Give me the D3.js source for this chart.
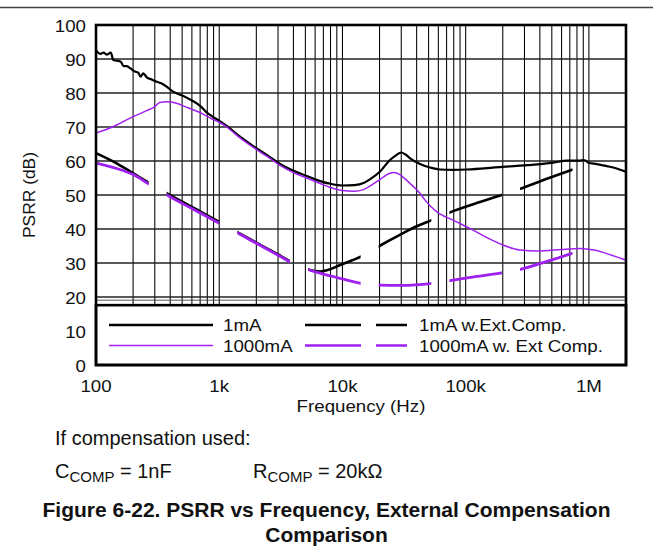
<!DOCTYPE html>
<html>
<head>
<meta charset="utf-8">
<script src="https://cdn.jsdelivr.net/npm/d3@7"></script>
<style>
  body { margin: 0; background: #fff; }
  svg { display: block; }
</style>
</head>
<body>
<svg id="chart" width="653" height="551"></svg>
<script>
// ---- Axis ticks ----
const freqTicks = [100, 1e3, 1e4, 1e5, 1e6];
const freqTickLabels = ["100", "1k", "10k", "100k", "1M"];
const psrrTicks = [0, 10, 20, 30, 40, 50, 60, 70, 80, 90, 100];

// ---- 1mA, no compensation ----
const freq1mA = [100, 108, 115, 122, 132, 138, 147, 159, 167, 177, 189, 207, 220, 230, 242, 258, 283, 311,
  341, 374, 411, 451, 511, 579, 700, 790, 890, 1000, 1150, 1475, 1890, 2430, 3115, 4000, 5130, 6000, 7000,
  8000, 10000, 12500, 15000, 16700, 20200, 24300, 27000, 30000, 32500, 35400, 42600, 51400, 62000, 79000,
  102000, 150000, 200000, 300000, 402000, 515000, 662000, 750000, 848000, 902000, 950000, 991000, 1160000,
  1400000, 1680000, 1970000, 2000000];
const psrr1mA = [92.6, 91.5, 91.9, 91.3, 91.9, 89.7, 89.5, 89.2, 87.9, 87.9, 87.3, 86.3, 86.0, 84.8, 85.8, 84.6, 84.0, 83.3,
  82.8, 81.9, 80.7, 79.9, 79.1, 78.1, 76.2, 74.3, 73.0, 71.8, 70.3, 67.2, 64.4, 61.8, 59.1, 57.1, 55.6, 54.6, 53.8,
  53.3, 52.8, 52.9, 53.6, 54.6, 56.9, 60.3, 61.6, 62.5, 61.9, 60.8, 59.1, 58.1, 57.5, 57.4,
  57.5, 57.9, 58.3, 58.7, 59.1, 59.5, 60.1, 60.1, 60.1, 60.3, 60.0, 59.5, 59.1,
  58.5, 57.8, 56.9, 56.8];

// ---- 1000mA, no compensation ----
const freq1000mA = [100, 118, 147, 177, 213, 258, 300, 330, 372, 450, 528, 620, 740, 860, 1000, 1150, 1475, 1890,
  2430, 3115, 4000, 5130, 6580, 8000, 10000, 12500, 14600, 16700, 20200, 24300, 25900, 27500, 29400, 32000,
  35400, 42600, 46800, 58000, 79000, 108000, 148000, 200000, 276000, 375000, 520000, 700000, 850000, 1100000,
  1500000, 1970000, 2000000];
const psrr1000mA = [68.2, 69.1, 70.6, 72.1, 73.5, 74.8, 76.0, 77.2, 77.4, 77.0, 76.0, 75.0, 73.8, 72.5, 71.4, 70.0, 66.8, 64.0,
  61.4, 58.7, 56.6, 55.0, 53.4, 52.2, 51.3, 51.1, 51.5, 52.6, 54.6, 56.4, 56.6, 56.5, 55.9, 54.8,
  53.4, 50.5, 48.5, 45.1, 42.6, 40.2, 37.5, 35.3, 33.8, 33.5, 33.8, 34.1, 34.3, 33.8,
  32.4, 30.9, 30.8];

// ---- 1mA with external compensation ----
const freq1mAExt = [100, 147, 200, 269, 377, 600, 1000, 1413, 2000, 3000, 3800, 4500, 5260, 6580, 8000, 9560,
  12000, 14200, 19900, 30000, 40000, 53000, 74700, 120000, 196000, 276000, 450000, 740000];
const psrr1mAExt = [62.3, 59.3, 56.4, 53.6, 50.5, 46.5, 42.1, 39.0, 36.0, 32.5, 30.4, 29.0, 28.1, 27.5, 28.2, 29.4,
  30.8, 31.9, 35.0, 38.5, 40.8, 42.6, 44.9, 47.5, 50.0, 51.8, 54.7, 57.5];

// ---- 1000mA with external compensation ----
const freq1000mAExt = [100, 147, 200, 269, 377, 600, 1000, 1413, 2000, 3000, 3800, 4500, 5260, 6580, 8000, 9560,
  12000, 14200, 19900, 30000, 53000, 74700, 120000, 196000, 276000, 450000, 740000];
const psrr1000mAExt = [59.4, 57.8, 56.0, 53.2, 50.0, 46.0, 41.7, 38.8, 35.8, 32.3, 30.2, 29.0, 28.1, 27.0, 26.2, 25.5,
  24.6, 24.0, 23.5, 23.4, 24.0, 24.8, 26.0, 27.1, 28.1, 30.4, 32.9];

const seriesNames = ["1mA", "1000mA", "1mA w.Ext.Comp.", "1000mA w. Ext Comp."];

// ---- Layout ----
const W = 653, H = 551;
const plot = { left: 96, right: 626, top: 25, bottom: 365 };
const PURPLE = "#a020f0";
const CHART_FONT = "'Liberation Sans', Arial, Helvetica, sans-serif";
const TEXT_STRETCH = 1.1;       // chart labels are slightly wide
const LEGEND_TOP_DB = 17.6;     // legend panel covers the bottom of the plot
const DASH_DECADES = 0.427;     // long-dash pattern measured along log frequency
const DASH_PERIOD_DECADES = 0.5735;

const svg = d3.select("#chart");
svg.append("rect").attr("width", W).attr("height", H).attr("fill", "#fff");

const x = d3.scaleLog().domain([100, 2e6]).range([plot.left, plot.right]);
const y = d3.scaleLinear().domain([0, 100]).range([plot.bottom, plot.top]);
const legendTop = y(LEGEND_TOP_DB);

// rule across the top of the page
svg.append("line").attr("x1", 0).attr("x2", W).attr("y1", 7.5).attr("y2", 7.5)
  .attr("stroke", "#444").attr("stroke-width", 1.3);

// ---- Grid ----
const grid = svg.append("g");
const minorFreqs = [];
for (let dec = 100; dec <= 1e6; dec *= 10) {
  for (let m = 1; m <= 9; m++) {
    const f = dec * m;
    if (f > 100 && f < 2e6) minorFreqs.push(f);
  }
}
grid.selectAll("line.v").data(minorFreqs).join("line")
  .attr("x1", d => x(d)).attr("x2", d => x(d))
  .attr("y1", plot.top).attr("y2", legendTop)
  .attr("stroke", "#000").attr("stroke-width", 1.05);
grid.selectAll("line.h").data(psrrTicks.filter(v => v >= 20 && v < 100)).join("line")
  .attr("x1", plot.left).attr("x2", plot.right)
  .attr("y1", d => y(d)).attr("y2", d => y(d))
  .attr("stroke", "#222").attr("stroke-width", 1.3);
grid.append("line")
  .attr("x1", plot.left).attr("x2", plot.right)
  .attr("y1", legendTop - 5).attr("y2", legendTop - 5)
  .attr("stroke", "#444").attr("stroke-width", 0.9);

// ---- Curves ----
const defs = svg.append("defs");
defs.append("clipPath").attr("id", "plotClip").append("rect")
  .attr("x", plot.left).attr("y", plot.top)
  .attr("width", plot.right - plot.left).attr("height", legendTop - plot.top);

// long dashes: spaced evenly in log frequency
const dashClip = defs.append("clipPath").attr("id", "dashClip");
const dashStarts = d3.range(2, Math.log10(2e6), DASH_PERIOD_DECADES);
dashClip.selectAll("rect").data(dashStarts).join("rect")
  .attr("x", d => x(Math.pow(10, d)))
  .attr("width", d => x(Math.pow(10, d + DASH_DECADES)) - x(Math.pow(10, d)))
  .attr("y", plot.top).attr("height", legendTop - plot.top);

const line = d3.line()
  .x(d => x(d[0])).y(d => y(d[1]))
  .curve(d3.curveMonotoneX);
const zip = (fs, vs) => fs.map((f, i) => [f, vs[i]]);

const curves = svg.append("g").attr("clip-path", "url(#plotClip)");
const dashed = curves.append("g").attr("clip-path", "url(#dashClip)");

dashed.append("path").datum(zip(freq1mAExt, psrr1mAExt))
  .attr("d", line).attr("fill", "none").attr("stroke", "#000").attr("stroke-width", 2.6);
dashed.append("path").datum(zip(freq1000mAExt, psrr1000mAExt))
  .attr("d", line).attr("fill", "none").attr("stroke", PURPLE).attr("stroke-width", 2.8);

curves.append("path").datum(zip(freq1mA, psrr1mA))
  .attr("d", line).attr("fill", "none").attr("stroke", "#000").attr("stroke-width", 2.2)
  .attr("stroke-linejoin", "round");
curves.append("path").datum(zip(freq1000mA, psrr1000mA))
  .attr("d", line).attr("fill", "none").attr("stroke", PURPLE).attr("stroke-width", 1.5);

// ---- Text helper: chart labels drawn slightly wide ----
function stretchedText(sel, px, py, str, anchor, size) {
  return sel.append("g")
    .attr("transform", `translate(${px},${py}) scale(${TEXT_STRETCH},1)`)
    .append("text")
    .attr("x", 0).attr("y", 0)
    .attr("text-anchor", anchor)
    .attr("font-family", CHART_FONT)
    .attr("font-size", size)
    .attr("fill", "#111")
    .text(str);
}

// ---- Legend panel ----
const legend = svg.append("g");
legend.append("rect")
  .attr("x", plot.left).attr("y", legendTop)
  .attr("width", plot.right - plot.left).attr("height", plot.bottom - legendTop)
  .attr("fill", "#fff").attr("stroke", "#000").attr("stroke-width", 2.6);

const legendItems = [
  { name: seriesNames[0], color: "#000", width: 2.6, dash: null, x0: 109, x1: 213, tx: 223, row: 0 },
  { name: seriesNames[1], color: PURPLE, width: 1.4, dash: null, x0: 109, x1: 213, tx: 223, row: 1 },
  { name: seriesNames[2], color: "#000", width: 2.7, dash: "56 15", x0: 305, x1: 407, tx: 419, row: 0 },
  { name: seriesNames[3], color: PURPLE, width: 2.7, dash: "56 15", x0: 305, x1: 407, tx: 419, row: 1 }
];
const rowY = [325, 345.5];
legendItems.forEach(it => {
  legend.append("line")
    .attr("x1", it.x0).attr("x2", it.x1)
    .attr("y1", rowY[it.row]).attr("y2", rowY[it.row])
    .attr("stroke", it.color).attr("stroke-width", it.width)
    .attr("stroke-dasharray", it.dash);
  stretchedText(legend, it.tx, rowY[it.row] + 6.3, it.name, "start", 17);
});

// ---- Plot frame ----
svg.append("rect")
  .attr("x", plot.left).attr("y", plot.top)
  .attr("width", plot.right - plot.left).attr("height", plot.bottom - plot.top)
  .attr("fill", "none").attr("stroke", "#000").attr("stroke-width", 2.6);

// ---- Axes labels ----
const axisG = svg.append("g");
psrrTicks.forEach(v => stretchedText(axisG, 86, y(v) + 7.2, String(v), "end", 17));
freqTicks.forEach((f, i) => stretchedText(axisG, x(f), 392, freqTickLabels[i], "middle", 17));
stretchedText(axisG, (plot.left + plot.right) / 2, 411.5, "Frequency (Hz)", "middle", 17);

svg.append("text")
  .attr("transform", `translate(35,${(plot.top + plot.bottom) / 2}) rotate(-90)`)
  .attr("text-anchor", "middle")
  .attr("font-family", CHART_FONT)
  .attr("font-size", 17.4)
  .attr("fill", "#111")
  .text("PSRR (dB)");

// ---- Notes and caption ----
const notes = svg.append("g")
  .attr("font-family", CHART_FONT).attr("fill", "#111");
notes.append("text").attr("x", 55).attr("y", 445).attr("font-size", 20)
  .text("If compensation used:");

function subscripted(px, py, main, sub, rest) {
  const t = notes.append("text").attr("x", px).attr("y", py).attr("font-size", 20);
  t.append("tspan").text(main);
  t.append("tspan").attr("font-size", 15).attr("dy", 4.5).text(sub);
  t.append("tspan").attr("dy", -4.5).text(rest);
}
subscripted(55, 477.5, "C", "COMP", " = 1nF");
subscripted(253, 477.5, "R", "COMP", " = 20k\u03A9");

const caption = svg.append("g")
  .attr("font-family", CHART_FONT).attr("font-weight", "bold")
  .attr("font-size", 21).attr("fill", "#111").attr("text-anchor", "middle");
caption.append("text").attr("x", W / 2).attr("y", 516.5)
  .text("Figure 6-22. PSRR vs Frequency, External Compensation");
caption.append("text").attr("x", W / 2).attr("y", 541.5)
  .text("Comparison");
</script>
</body>
</html>
